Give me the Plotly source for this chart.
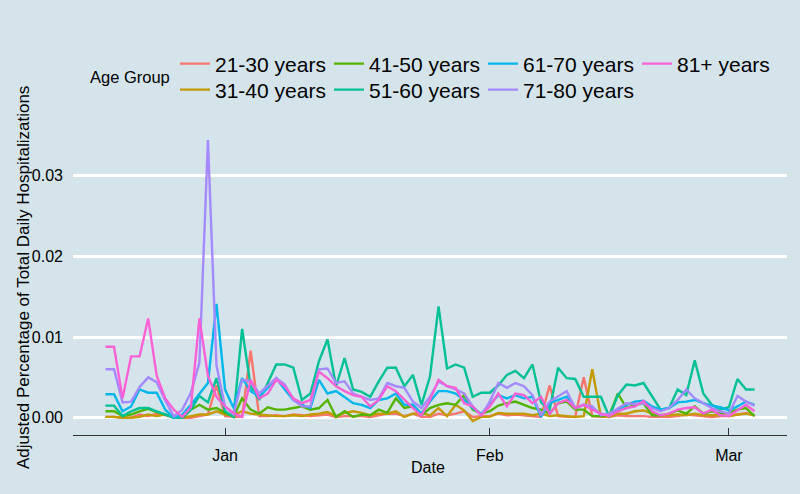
import pandas as pd
import plotly.graph_objects as go

# ---------------- data ----------------
dates = pd.date_range("2020-12-18", periods=77, freq="D")

age_groups = ["21-30 years", "31-40 years", "41-50 years", "51-60 years",
              "61-70 years", "71-80 years", "81+ years"]
colors = ["#F8766D", "#C49A00", "#53B400", "#00C094", "#00B6EB", "#A58AFF", "#FB61D7"]

v_21_30 = [.0001, .0001, .0000, .0000, .0004, .0002, .0005, .0003, .0001, .0000, .0000, .0002, .0004, .0040, .0002, .0001,
           .0001, .0083, .0002, .0002, .0003, .0002, .0004, .0003, .0002, .0003, .0004, .0001, .0002, .0002, .0002,
           .0001, .0003, .0005, .0005, .0002, .0005, .0001, .0001, .0005, .0003, .0005, .0008, .0001, .0002, .0002,
           .0005, .0003, .0004, .0003, .0002, .0001, .0040, .0002, .0001, .0001, .0050, .0002, .0001, .0001, .0003, .0002,
           .0002, .0002, .0001, .0001, .0001, .0002, .0004, .0003, .0002, .0001, .0002, .0002, .0004, .0006, .0003]
v_31_40 = [.0001, .0001, .0000, .0000, .0001, .0004, .0002, .0004, .0000, .0000, .0002, .0004, .0004, .0008, .0004, .0003,
           .0008, .0005, .0004, .0003, .0002, .0002, .0003, .0002, .0004, .0005, .0007, .0002, .0006, .0008, .0006,
           .0003, .0005, .0005, .0008, .0001, .0005, .0006, .0003, .0012, .0002, .0016, .0009, -.0004, .0001, .0001,
           .0006, .0005, .0005, .0005, .0003, .0005, .0002, .0003, .0002, .0001, .0002, .0060, .0002, .0001, .0005, .0005,
           .0008, .0009, .0005, .0003, .0003, .0004, .0003, .0005, .0003, .0003, .0003, .0002, .0004, .0005, .0003]
v_41_50 = [.0008, .0008, .0002, .0004, .0008, .0011, .0007, .0004, .0000, .0000, .0010, .0016, .0010, .0012, .0006, .0001,
           .0024, .0010, .0005, .0013, .0010, .0010, .0012, .0014, .0010, .0012, .0022, .0001, .0008, .0001, .0004,
           .0003, .0010, .0006, .0024, .0012, .0014, .0003, .0012, .0016, .0018, .0016, .0028, .0010, .0005, .0008,
           .0015, .0018, .0020, .0016, .0012, .0010, .0005, .0018, .0020, .0010, .0010, .0002, .0002, .0003, .0030, .0012,
           .0016, .0018, .0003, .0003, .0005, .0009, .0005, .0014, .0005, .0008, .0005, .0006, .0010, .0012, .0002]
v_51_60 = [.0015, .0015, .0002, .0008, .0012, .0012, .0008, .0004, .0000, .0000, .0010, .0027, .0019, .0049, .0008, .0001,
           .0110, .0039, .0022, .0043, .0066, .0066, .0062, .0022, .0030, .0070, .0097, .0039, .0074, .0035, .0032,
           .0026, .0045, .0062, .0062, .0039, .0053, .0016, .0051, .0138, .0061, .0066, .0062, .0026, .0031, .0031,
           .0040, .0053, .0058, .0049, .0066, .0019, .0010, .0062, .0049, .0048, .0026, .0026, .0026, .0001, .0028, .0041,
           .0040, .0043, .0026, .0010, .0012, .0035, .0028, .0071, .0030, .0016, .0010, .0013, .0048, .0035, .0035]
v_61_70 = [.0029, .0029, .0008, .0014, .0035, .0031, .0031, .0010, .0000, .0004, .0016, .0029, .0043, .0141, .0035, .0012,
           .0049, .0033, .0026, .0037, .0049, .0035, .0022, .0016, .0012, .0047, .0030, .0033, .0026, .0018, .0016,
           .0012, .0022, .0024, .0030, .0016, .0016, .0005, .0020, .0033, .0033, .0030, .0022, .0012, .0005, .0016,
           .0028, .0024, .0028, .0024, .0026, .0001, .0018, .0022, .0026, .0012, .0016, .0012, .0005, .0003, .0010, .0016,
           .0020, .0021, .0014, .0010, .0012, .0019, .0020, .0022, .0018, .0015, .0013, .0009, .0014, .0020, .0016]
v_71_80 = [.0060, .0060, .0019, .0020, .0038, .0050, .0044, .0021, .0002, .0010, .0031, .0068, .0344, .0065, .0014, .0004,
           .0047, .0045, .0030, .0039, .0049, .0041, .0022, .0014, .0014, .0060, .0061, .0043, .0045, .0030, .0026,
           .0022, .0024, .0043, .0039, .0037, .0020, .0012, .0026, .0045, .0039, .0035, .0030, .0014, .0003, .0020,
           .0043, .0037, .0043, .0039, .0028, .0003, .0020, .0026, .0033, .0012, .0016, .0014, .0003, .0005, .0012, .0018,
           .0017, .0018, .0012, .0008, .0012, .0022, .0035, .0024, .0018, .0012, .0008, .0005, .0027, .0020, .0015]
v_81_plus = [.0088, .0088, .0024, .0076, .0076, .0123, .0052, .0024, .0010, .0001, .0013, .0123, .0052, .0026, .0014, .0006,
             .0001, .0047, .0024, .0030, .0047, .0039, .0024, .0018, .0022, .0057, .0049, .0039, .0033, .0028, .0026,
             .0014, .0022, .0039, .0033, .0022, .0012, .0003, .0022, .0047, .0039, .0037, .0018, .0014, .0003, .0014,
             .0030, .0014, .0030, .0028, .0018, .0026, .0005, .0018, .0022, .0012, .0016, .0010, .0005, .0002, .0008, .0012,
             .0014, .0021, .0008, .0003, .0005, .0010, .0012, .0013, .0005, .0010, .0003, .0002, .0009, .0016, .0008]

series = [v_21_30, v_31_40, v_41_50, v_51_60, v_61_70, v_71_80, v_81_plus]

x_range = ["2020-12-14 04:48", "2021-03-07 19:12"]
x_tick_vals = ["2021-01-01", "2021-02-01", "2021-03-01"]
x_tick_text = ["Jan", "Feb", "Mar"]
y_range = [-0.00214, 0.03614]
y_tick_vals = [0, 0.01, 0.02, 0.03]
y_tick_text = ["0.00", "0.01", "0.02", "0.03"]

# ---------------- figure ----------------
BG = "#d5e4eb"
FONT = "Liberation Sans, Arial, sans-serif"

fig = go.Figure()
for i, (name, col, vals) in enumerate(zip(age_groups, colors, series)):
    fig.add_trace(go.Scatter(
        x=dates, y=vals, mode="lines", name=name,
        line=dict(color=col, width=2.4),
        legend="legend" if i % 2 == 0 else "legend2",
    ))

legend_common = dict(
    orientation="h", xref="container", yref="container",
    x=175 / 800, xanchor="left", yanchor="middle",
    bgcolor="rgba(0,0,0,0)", borderwidth=0,
    font=dict(family=FONT, size=21, color="black"),
    entrywidth=109, entrywidthmode="pixels",
    tracegroupgap=0,
)

fig.update_layout(
    width=800, height=494,
    paper_bgcolor=BG, plot_bgcolor=BG,
    margin=dict(l=73, r=13, t=126, b=59),
    font=dict(family=FONT, color="black"),
    showlegend=True,
    legend=dict(legend_common, y=1 - 64 / 494),
    legend2=dict(legend_common, y=1 - 90 / 494),
    xaxis=dict(
        type="date", range=x_range,
        tickvals=x_tick_vals, ticktext=x_tick_text,
        ticks="inside", ticklen=7, tickwidth=1, tickcolor="#333333",
        showline=True, linecolor="#333333", linewidth=1,
        showgrid=False, zeroline=False,
        tickfont=dict(family=FONT, size=16, color="black"),
        ticklabelstandoff=6,
    ),
    yaxis=dict(
        range=y_range, tickvals=y_tick_vals, ticktext=y_tick_text,
        ticks="", showline=False, zeroline=False,
        showgrid=True, gridcolor="white", gridwidth=2.7,
        tickfont=dict(family=FONT, size=16, color="black"),
        ticklabelstandoff=9,
    ),
    annotations=[
        dict(text="Age Group", xref="paper", yref="paper",
             x=(130 - 73) / 714, y=(494 - 59 - 77) / 309,
             showarrow=False, xanchor="center", yanchor="middle",
             font=dict(family=FONT, size=16.5, color="black")),
        dict(text="Adjusted Percentage of Total Daily Hospitalizations",
             xref="paper", yref="paper",
             x=(23 - 73) / 714, y=(435 - 278) / 309,
             textangle=-90, showarrow=False, xanchor="center", yanchor="middle",
             font=dict(family=FONT, size=17, color="black")),
        dict(text="Date", xref="paper", yref="paper",
             x=(428 - 73) / 714, y=(435 - 467) / 309,
             showarrow=False, xanchor="center", yanchor="middle",
             font=dict(family=FONT, size=16, color="black")),
    ],
)

fig.write_html(
    "out.html",
    config={"displayModeBar": False},
    post_script="document.body.style.margin='0';document.body.style.overflow='hidden';",
)
